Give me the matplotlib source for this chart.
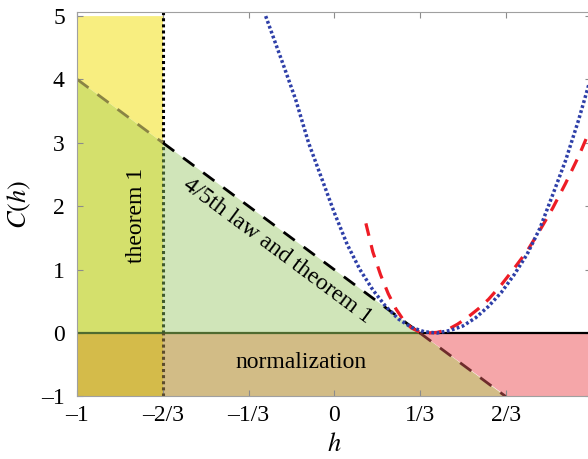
import matplotlib
matplotlib.use("Agg")
import matplotlib.pyplot as plt
import numpy as np

# ---- data ----
x_ticks = [-1, -2/3, -1/3, 0, 1/3, 2/3, 1]
x_tick_labels = ["\u20131", "\u20132/3", "\u20131/3", "0", "1/3", "2/3", ""]
y_ticks = [-1, 0, 1, 2, 3, 4, 5]
y_tick_labels = ["\u20131", "0", "1", "2", "3", "4", "5"]

# 4/5th law bound C = 1 - 3h, end points
law_h = [-1, -2/3, 1/3, 2/3]
law_c = [4, 3, 0, -1]

# blue dotted curve
blue_h = [-0.267, -0.20, -0.15, -0.10, -0.05, 0.00, 0.05, 0.10, 0.15, 0.20, 0.25,
          0.30, 0.35, 0.40, 0.45, 0.50, 0.55, 0.60, 0.65, 0.70, 0.75, 0.80, 0.85,
          0.90, 0.95, 1.00]
blue_c = [5.00, 4.25, 3.68, 3.00, 2.45, 1.90, 1.40, 1.00, 0.68, 0.42, 0.22,
          0.09, 0.02, 0.00, 0.04, 0.11, 0.24, 0.42, 0.64, 0.92, 1.24, 1.65, 2.18,
          2.72, 3.35, 4.05]

# red dashed curve
red_h = [0.123, 0.15, 0.18, 0.21, 0.24, 0.27, 0.30, 0.33, 0.36, 0.40, 0.44, 0.48,
         0.52, 0.56, 0.60, 0.65, 0.70, 0.75, 0.80, 0.85, 0.90, 0.95, 1.00]
red_c = [1.73, 1.28, 0.92, 0.62, 0.38, 0.20, 0.08, 0.02, 0.00, 0.01, 0.05, 0.14,
         0.25, 0.38, 0.53, 0.76, 1.02, 1.29, 1.62, 1.97, 2.36, 2.78, 3.25]

plt.rcParams["font.family"] = "Liberation Serif"
plt.rcParams["mathtext.fontset"] = "stix"

fig = plt.figure(figsize=(5.88, 4.59), dpi=100)
# right edge of the axes sits just past the picture edge, as in the reference
ax = fig.add_axes([0.1315, 0.1364, 0.874, 0.8368])
ax.set_xlim(-1, 1)
ax.set_ylim(-1, 5.06)

h0, h1, h2, h3 = law_h
c0, c1, c2, c3 = law_c

# ---- shaded regions ----
regions = [
    ([(h0, c0), (h1, c1), (h1, 5), (h0, 5)], "#f8ee80"),        # theorem 1 only
    ([(h0, 0), (h1, 0), (h1, c1), (h0, c0)], "#d4e06c"),        # theorem 1 + law
    ([(h0, -1), (h1, -1), (h1, 0), (h0, 0)], "#d4bb4a"),        # all three
    ([(h1, 0), (h2, 0), (h1, c1)], "#d0e5b9"),                  # law and theorem 1
    ([(h1, -1), (h3, -1), (h2, 0), (h1, 0)], "#d2bc86"),        # normalization
    ([(h2, 0), (1, 0), (1, -1), (h3, -1)], "#f5a6a9"),          # pink
]
for pts, col in regions:
    ax.add_patch(plt.Polygon(pts, closed=True, facecolor=col, edgecolor="none", zorder=1))

# ---- boundary lines ----
ax.plot([h0, h2], [0, 0], color="#4f6b30", lw=1.6, zorder=2)
ax.plot([h2, 1], [0, 0], color="black", lw=1.6, zorder=2)

ax.plot([h1, h1], [c1, 5.06], color="black", lw=2.2, ls=(0, (1, 1)), zorder=2)
ax.plot([h1, h1], [0, c1], color="#3f5a2c", lw=2.2, ls=(0, (1, 1)), zorder=2)
ax.plot([h1, h1], [-1, 0], color="#5c4c2c", lw=2.2, ls=(0, (1, 1)), zorder=2)

ax.plot([h0, h1], [c0, c1], color="#8a8444", lw=2, ls=(0, (5, 4)), zorder=2)
ax.plot([h1, h2], [c1, c2], color="black", lw=2, ls=(0, (5, 4)), zorder=2)
ax.plot([h2, h3], [c2, c3], color="#6e2c2c", lw=2, ls=(0, (5, 4)), zorder=2)

# ---- curves ----
ax.plot(red_h, red_c, color="#ee1c25", lw=2.3, ls=(0, (4, 3)), zorder=3)
ax.plot(blue_h, blue_c, color="#2e3fa8", lw=2.5, ls=(0, (0.8, 0.7)), zorder=4)

# ---- labels inside ----
ax.text(-0.77, 1.86, "theorem 1", rotation=90, ha="center", va="center", fontsize=17)
ax.text(-0.22, 1.30, "4/5th law and theorem 1", rotation=-36.6, rotation_mode="anchor",
        ha="center", va="center", fontsize=17)
ax.text(-0.13, -0.47, "normalization", ha="center", va="center", fontsize=17)

# ---- axes styling ----
ax.set_xticks(x_ticks)
ax.set_xticklabels(x_tick_labels)
ax.set_yticks(y_ticks)
ax.set_yticklabels(y_tick_labels)
ax.tick_params(direction="in", length=4, width=0.8, color="#8c8c8c", labelsize=17,
               top=True, right=True)
ax.tick_params(axis="x", pad=6)
ax.tick_params(axis="y", pad=9)
for sp in ax.spines.values():
    sp.set_color("#a0a0a0")
    sp.set_linewidth(0.8)

ax.set_xlabel("$h$", fontsize=19, labelpad=5)
ax.set_ylabel("$C(h)$", fontsize=19, labelpad=6)

fig.savefig("out.png", dpi=100)
